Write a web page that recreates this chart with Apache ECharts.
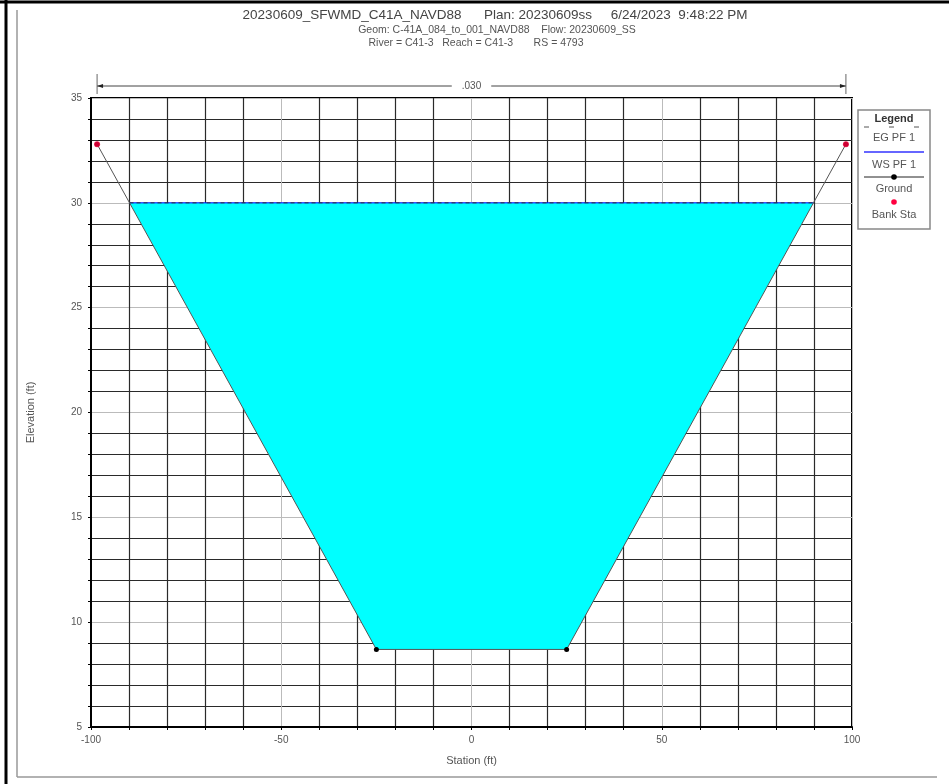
<!DOCTYPE html>
<html><head><meta charset="utf-8">
<script src="https://cdn.jsdelivr.net/npm/echarts@6/dist/echarts.min.js"></script>
<style>html,body{margin:0;padding:0;background:#fff}#c{width:949px;height:784px}</style>
</head><body><div id="c"></div>
<script>
// ---- data ----
const groundStations = [-98.4, -25, 25, 98.4];
const groundElevations = [32.8, 8.7, 8.7, 32.8];
const bankStations = [-98.4, 98.4];
const bankElevations = [32.8, 32.8];
const wsElevation = 30.0;
const egElevation = 30.0;
const nValueLabel = '.030';
const xTicks = [-100, -50, 0, 50, 100];
const yTicks = [5, 10, 15, 20, 25, 30, 35];
const titleLines = [
  '20230609_SFWMD_C41A_NAVD88      Plan: 20230609ss     6/24/2023  9:48:22 PM',
  'Geom: C-41A_084_to_001_NAVD88    Flow: 20230609_SS',
  'River = C41-3   Reach = C41-3       RS = 4793'
];
const legendItems = ['EG PF 1', 'WS PF 1', 'Ground', 'Bank Sta'];

// water polygon from ground clipped at WS elevation
function waterPolygon() {
  const pts = [];
  for (let i = 0; i < groundStations.length - 1; i++) {
    const x1 = groundStations[i], y1 = groundElevations[i];
    const x2 = groundStations[i + 1], y2 = groundElevations[i + 1];
    if (y1 < wsElevation) pts.push([x1, y1]);
    if ((y1 - wsElevation) * (y2 - wsElevation) < 0) {
      const t = (wsElevation - y1) / (y2 - y1);
      pts.push([x1 + t * (x2 - x1), wsElevation]);
    }
  }
  const last = groundStations.length - 1;
  if (groundElevations[last] < wsElevation) pts.push([groundStations[last], groundElevations[last]]);
  return pts;
}
const water = waterPolygon();
const wsLeft = water[0][0], wsRight = water[water.length - 1][0];

const FONT = 'Liberation Sans, Arial, sans-serif';
const chart = echarts.init(document.getElementById('c'), null, {renderer: 'canvas'});
const axisCommon = {
  axisTick: {show: true, length: 3, lineStyle: {color: '#000'}},
  minorTick: {show: true, splitNumber: 5, length: 3, lineStyle: {color: '#000'}},
  splitLine: {show: true, lineStyle: {color: '#bbb', width: 1}},
  minorSplitLine: {show: true, lineStyle: {color: '#2a2a2a', width: 1.2}}
};
const option = {
  animation: false,
  backgroundColor: '#fff',
  grid: {left: 91, right: 97, top: 98, bottom: 57, show: true, borderColor: '#000', borderWidth: 2, backgroundColor: 'transparent'},
  xAxis: Object.assign({
    type: 'value', min: -100, max: 100, interval: 50,
    name: 'Station (ft)', nameLocation: 'middle', nameGap: 28,
    nameTextStyle: {fontFamily: FONT, fontSize: 11, color: '#555'},
    axisLine: {show: true, onZero: false, lineStyle: {color: '#000', width: 2}},
    axisLabel: {fontFamily: FONT, fontSize: 10, color: '#555', margin: 8,
      formatter: v => xTicks.includes(v) ? String(v) : ''}
  }, axisCommon),
  yAxis: Object.assign({
    type: 'value', min: 5, max: 35, interval: 5,
    name: 'Elevation (ft)', nameLocation: 'middle', nameGap: 55, nameRotate: 90,
    nameTextStyle: {fontFamily: FONT, fontSize: 11, color: '#555'},
    axisLine: {show: true, onZero: false, lineStyle: {color: '#000', width: 2}},
    axisLabel: {fontFamily: FONT, fontSize: 10, color: '#555', margin: 9,
      formatter: v => yTicks.includes(v) ? String(v) : ''}
  }, axisCommon),
  series: [
    {
      type: 'custom', name: 'water', z: 3,
      data: [0],
      renderItem: function (params, api) {
        return {
          type: 'polygon',
          shape: {points: water.map(p => api.coord(p))},
          style: {fill: '#00FFFF', stroke: null}
        };
      }
    },
    {
      type: 'line', name: 'WS PF 1', z: 4,
      data: [[wsLeft, wsElevation], [wsRight, wsElevation]],
      showSymbol: false, lineStyle: {color: '#0000FF', width: 1}
    },
    {
      type: 'line', name: 'EG PF 1', z: 5,
      data: [[wsLeft, egElevation], [wsRight, egElevation]],
      showSymbol: false, lineStyle: {color: '#333', width: 1, type: [4, 3]}
    },
    {
      type: 'line', name: 'Ground', z: 6,
      data: groundStations.map((x, i) => [x, groundElevations[i]]),
      symbol: 'circle', symbolSize: 5, showSymbol: true,
      itemStyle: {color: '#000'},
      lineStyle: {color: '#555', width: 1}
    },
    {
      type: 'scatter', name: 'Bank Sta', z: 7,
      data: bankStations.map((x, i) => [x, bankElevations[i]]),
      symbol: 'circle', symbolSize: 6,
      itemStyle: {color: '#FF0040'}
    }
  ]
};
chart.setOption(option);

// graphics (frame, titles, legend, n-value line)
const pL = chart.convertToPixel({xAxisIndex: 0}, groundStations[0]);
const pR = chart.convertToPixel({xAxisIndex: 0}, groundStations[groundStations.length - 1]);
const nY = 86;
const lgX = 858, lgY = 110, lgW = 72, lgH = 119;
const lgCx = lgX + lgW / 2;
const txt = (x, y, s, size, extra) => Object.assign({type: 'text', x: x, y: y, z: 11,
  style: Object.assign({text: s, fontFamily: FONT, fontSize: size, fill: '#555', textAlign: 'center', textVerticalAlign: 'middle'}, extra || {})});
const g = [
  {type: 'line', shape: {x1: 0, y1: 2, x2: 949, y2: 2}, style: {stroke: '#000', lineWidth: 3}},
  {type: 'line', shape: {x1: 6, y1: 0, x2: 6, y2: 784}, style: {stroke: '#000', lineWidth: 3}},
  {type: 'line', shape: {x1: 17, y1: 10, x2: 17, y2: 777}, style: {stroke: '#999', lineWidth: 1.5}},
  {type: 'line', shape: {x1: 17, y1: 777, x2: 937, y2: 777}, style: {stroke: '#999', lineWidth: 1.5}},
  txt(495, 15, titleLines[0], 13.5, {fill: '#444'}),
  txt(497, 30, titleLines[1], 10.5),
  txt(476, 43, titleLines[2], 10.5),
  // n-value line
  {type: 'line', shape: {x1: pL, y1: nY, x2: pR, y2: nY}, style: {stroke: '#444', lineWidth: 1}},
  {type: 'line', shape: {x1: pL, y1: nY - 12, x2: pL, y2: nY + 8}, style: {stroke: '#666', lineWidth: 1}},
  {type: 'line', shape: {x1: pR, y1: nY - 12, x2: pR, y2: nY + 8}, style: {stroke: '#666', lineWidth: 1}},
  {type: 'polygon', shape: {points: [[pL, nY], [pL + 6, nY - 2], [pL + 6, nY + 2]]}, style: {fill: '#222'}},
  {type: 'polygon', shape: {points: [[pR, nY], [pR - 6, nY - 2], [pR - 6, nY + 2]]}, style: {fill: '#222'}},
  txt((pL + pR) / 2, nY, nValueLabel, 10, {backgroundColor: '#fff', padding: [1, 10]}),
  // legend
  {type: 'rect', shape: {x: lgX, y: lgY, width: lgW, height: lgH}, style: {fill: '#fff', stroke: '#888', lineWidth: 1.5}, z: 10},
  txt(lgCx, lgY + 9, 'Legend', 11, {fontWeight: 'bold', fill: '#333'}),
  {type: 'line', shape: {x1: lgX + 6, y1: lgY + 17, x2: lgX + lgW - 6, y2: lgY + 17}, style: {stroke: '#555', lineWidth: 1, lineDash: [5, 20]}, z: 11},
  txt(lgCx, lgY + 28, legendItems[0], 11),
  {type: 'line', shape: {x1: lgX + 6, y1: lgY + 42, x2: lgX + lgW - 6, y2: lgY + 42}, style: {stroke: '#3333ff', lineWidth: 1.5}, z: 11},
  txt(lgCx, lgY + 55, legendItems[1], 11),
  {type: 'line', shape: {x1: lgX + 6, y1: lgY + 67, x2: lgX + lgW - 6, y2: lgY + 67}, style: {stroke: '#222', lineWidth: 1}, z: 11},
  {type: 'circle', shape: {cx: lgCx, cy: lgY + 67, r: 2.8}, style: {fill: '#000'}, z: 12},
  txt(lgCx, lgY + 79, legendItems[2], 11),
  {type: 'circle', shape: {cx: lgCx, cy: lgY + 92, r: 2.8}, style: {fill: '#FF0040'}, z: 12},
  txt(lgCx, lgY + 105, legendItems[3], 11)
];
chart.setOption({graphic: g});
</script>
</body></html>
